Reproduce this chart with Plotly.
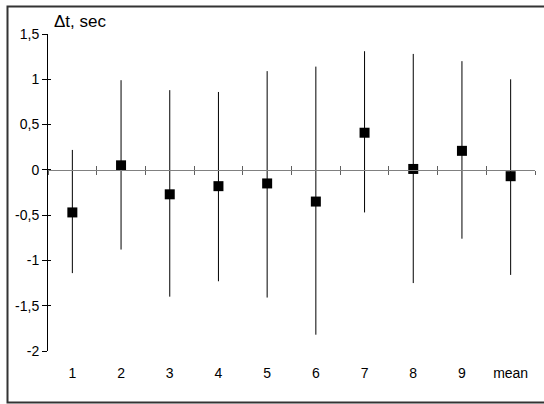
import plotly.graph_objects as go

# ---- data ----
categories = ["1", "2", "3", "4", "5", "6", "7", "8", "9", "mean"]
dt_values = [-0.47, 0.05, -0.27, -0.18, -0.15, -0.35, 0.41, 0.01, 0.21, -0.07]
err_upper = [0.22, 0.99, 0.88, 0.86, 1.09, 1.14, 1.31, 1.28, 1.20, 1.00]
err_lower = [-1.14, -0.88, -1.40, -1.23, -1.41, -1.82, -0.47, -1.25, -0.76, -1.16]
y_tickvals = [-2, -1.5, -1, -0.5, 0, 0.5, 1, 1.5]
y_ticktext = ["-2", "-1,5", "-1", "-0,5", "0", "0,5", "1", "1,5"]
y_title = "Δt, sec"

x_pos = list(range(1, len(categories) + 1))
plus = [u - v for u, v in zip(err_upper, dt_values)]
minus = [v - l for v, l in zip(dt_values, err_lower)]

FONT = "Liberation Sans, Arial, sans-serif"
W, H = 544, 404
ML, MR, MT, MB = 48, 9, 34, 53
y_range = [-2, 1.5]
zero_pos = (0 - y_range[0]) / (y_range[1] - y_range[0])
x_range = [0.5, len(categories) + 0.5]

fig = go.Figure()
fig.add_trace(go.Scatter(
    x=x_pos, y=dt_values, mode="markers",
    marker=dict(symbol="square", size=10, color="black"),
    error_y=dict(type="data", symmetric=False, array=plus, arrayminus=minus,
                 color="black", thickness=1, width=0),
    showlegend=False, hoverinfo="skip",
))
# empty helper traces so the overlay axes (labels / crossing ticks) get drawn
for xa, ya in [("x2", "y"), ("x3", "y"), ("x", "y2")]:
    fig.add_trace(go.Scatter(x=[], y=[], xaxis=xa, yaxis=ya, mode="markers",
                             showlegend=False, hoverinfo="skip"))

tick_col = "#606060"
fig.update_layout(
    width=W, height=H,
    margin=dict(l=ML, r=MR, t=MT, b=MB),
    paper_bgcolor="white", plot_bgcolor="white",
    font=dict(family=FONT, size=14, color="black"),
    # crossing axis at y = 0 (ticks at category boundaries, downward part)
    xaxis=dict(range=x_range, anchor="free", position=zero_pos,
               showline=True, linecolor="#808080", linewidth=1,
               tick0=0.5, dtick=1, ticks="outside", ticklen=4,
               tickcolor=tick_col, tickwidth=1,
               showticklabels=False, showgrid=False, zeroline=False),
    # labelled category axis at bottom
    xaxis2=dict(range=x_range, overlaying="x", anchor="y", side="bottom",
                tickvals=x_pos, ticktext=categories, ticks="",
                ticklabelstandoff=12, showline=False, showgrid=False,
                zeroline=False, tickfont=dict(size=14)),
    # upward part of the crossing ticks
    xaxis3=dict(range=x_range, overlaying="x", anchor="free", position=zero_pos,
                tick0=0.5, dtick=1, ticks="inside", ticklen=4,
                tickcolor=tick_col, tickwidth=1,
                showline=False, showticklabels=False, showgrid=False, zeroline=False),
    yaxis=dict(range=y_range, tickvals=y_tickvals, ticktext=y_ticktext,
               showline=True, linecolor="black", linewidth=1,
               ticks="outside", ticklen=5, tickcolor="black",
               showgrid=False, zeroline=False, tickfont=dict(size=14)),
    yaxis2=dict(range=y_range, overlaying="y", anchor="x", side="left",
                tickvals=y_tickvals, ticks="inside", ticklen=3, tickcolor="black",
                showticklabels=False, showline=False, showgrid=False, zeroline=False),
    annotations=[dict(text=y_title, xref="paper", yref="paper",
                      x=(52 - ML) / (W - ML - MR), y=(H - MB - 21) / (H - MT - MB),
                      xanchor="left", yanchor="middle", showarrow=False,
                      font=dict(size=17, family=FONT, color="black"))],
    shapes=[dict(type="rect", xref="paper", yref="paper",
                 x0=(7.5 - ML) / (W - ML - MR), x1=(548 - ML) / (W - ML - MR),
                 y0=(H - MB - 402.5) / (H - MT - MB), y1=(H - MB - 6.5) / (H - MT - MB),
                 line=dict(color="#333333", width=2), layer="below")],
)

fig.write_html("out.html",
               config={"displayModeBar": False},
               post_script="document.body.style.margin='0';"
                           "document.body.style.overflow='hidden';")
